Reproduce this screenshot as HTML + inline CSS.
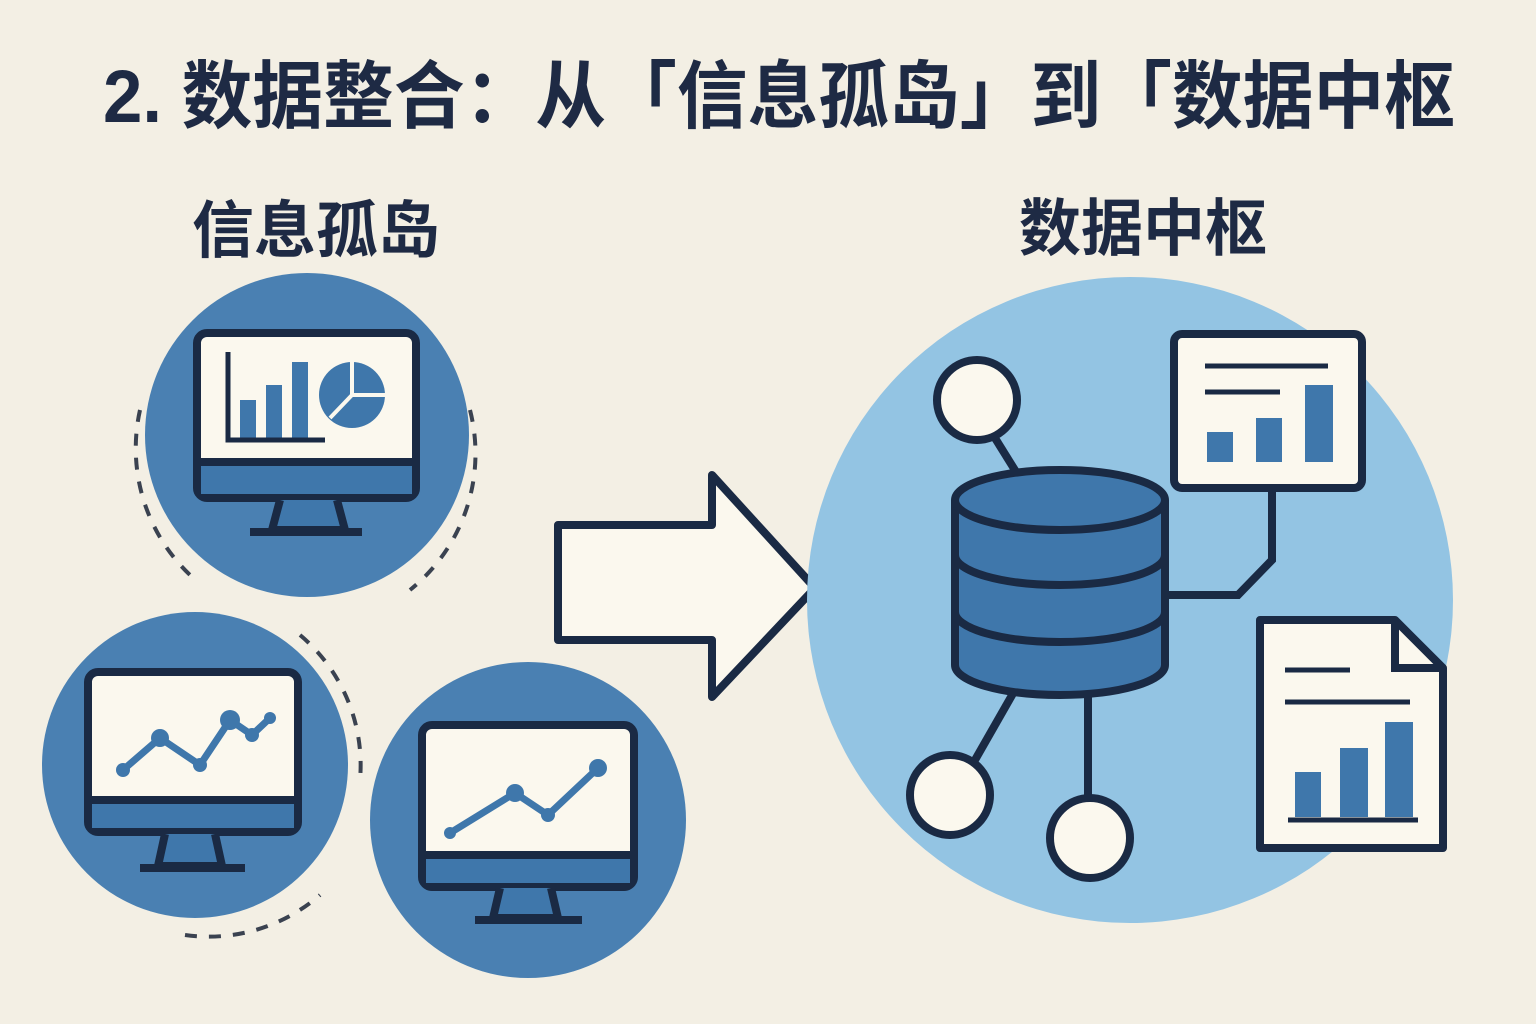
<!DOCTYPE html>
<html><head><meta charset="utf-8"><style>
html,body{margin:0;padding:0;background:#f3efe4;}
svg{display:block}
text{font-family:"Liberation Sans","Noto Sans CJK SC",sans-serif;font-weight:bold;fill:#1e2a44}
</style></head><body>
<svg width="1536" height="1024" viewBox="0 0 1536 1024" xmlns="http://www.w3.org/2000/svg">
<rect width="1536" height="1024" fill="#f3efe4"/>
<text x="103" y="122" font-size="74" textLength="1352" lengthAdjust="spacingAndGlyphs">2. 数据整合：从「信息孤岛」到「数据中枢</text>
<text x="316" y="252" font-size="62" text-anchor="middle">信息孤岛</text>
<text x="1143" y="250" font-size="62" text-anchor="middle">数据中枢</text>

<g fill="none" stroke="#3a4250" stroke-width="4" stroke-dasharray="12 12">
<path d="M140 410 A175 175 0 0 0 190 575"/>
<path d="M470 410 A175 175 0 0 1 410 590"/>
<path d="M300 635 A170 170 0 0 1 360 780"/>
<path d="M185 935 A170 170 0 0 0 320 895"/>
</g>

<circle cx="307" cy="435" r="162" fill="#4a80b2"/>
<circle cx="195" cy="765" r="153" fill="#4a80b2"/>
<circle cx="528" cy="820" r="158" fill="#4a80b2"/>

<g stroke="#1a2a44" stroke-width="8" stroke-linejoin="round">
<rect x="197" y="333" width="219" height="165" rx="10" fill="#fbf8ee"/>
<rect x="201" y="462" width="211" height="32" fill="#3f77ab" stroke="none"/>
<line x1="201" y1="462" x2="412" y2="462"/>
<path d="M280 500 L272 530 L345 530 L337 500" fill="#3f77ab"/>
<line x1="250" y1="532" x2="362" y2="532"/>
<rect x="88" y="672" width="210" height="160" rx="10" fill="#fbf8ee"/>
<rect x="92" y="800" width="202" height="28" fill="#3f77ab" stroke="none"/>
<line x1="92" y1="800" x2="294" y2="800"/>
<path d="M165 834 L158 866 L222 866 L215 834" fill="#3f77ab"/>
<line x1="140" y1="868" x2="245" y2="868"/>
<rect x="422" y="725" width="212" height="162" rx="10" fill="#fbf8ee"/>
<rect x="426" y="855" width="204" height="28" fill="#3f77ab" stroke="none"/>
<line x1="426" y1="855" x2="630" y2="855"/>
<path d="M500 888 L493 918 L558 918 L551 888" fill="#3f77ab"/>
<line x1="475" y1="920" x2="582" y2="920"/>
</g>

<g fill="#3f77ab">
<rect x="240" y="400" width="16" height="38"/><rect x="266" y="385" width="16" height="53"/><rect x="292" y="362" width="16" height="76"/>
</g>
<path d="M228 352 V440 H325" fill="none" stroke="#1a2a44" stroke-width="5"/>
<circle cx="352" cy="395" r="33" fill="#3f77ab"/>
<path d="M352 395 V362 M352 395 L385 395 M352 395 L330 418" stroke="#fbf8ee" stroke-width="4"/>
<polyline points="123,770 160,738 200,765 230,720 252,735 270,718" fill="none" stroke="#3f77ab" stroke-width="7" stroke-linejoin="round"/>
<g fill="#3f77ab"><circle cx="123" cy="770" r="7"/><circle cx="160" cy="738" r="9"/><circle cx="200" cy="765" r="7"/><circle cx="230" cy="720" r="10"/><circle cx="252" cy="735" r="7"/><circle cx="270" cy="718" r="6"/></g>
<polyline points="450,833 515,793 548,815 598,768" fill="none" stroke="#3f77ab" stroke-width="7" stroke-linejoin="round"/>
<g fill="#3f77ab"><circle cx="450" cy="833" r="6"/><circle cx="515" cy="793" r="9"/><circle cx="548" cy="815" r="7"/><circle cx="598" cy="768" r="9"/></g>

<polygon points="558,525 712,525 712,475 815,588 712,697 712,640 558,640" fill="#fbf8ee" stroke="#1a2a44" stroke-width="8" stroke-linejoin="round"/>

<circle cx="1130" cy="600" r="323" fill="#93c4e3"/>
<g stroke="#1a2a44" stroke-width="8" fill="none">
<line x1="990" y1="430" x2="1018" y2="475"/>
<line x1="1015" y1="690" x2="975" y2="760"/>
<line x1="1088" y1="690" x2="1088" y2="800"/>
<polyline points="1165,595 1238,595 1272,560 1272,488"/>
</g>
<g stroke="#1a2a44" stroke-width="8" fill="#3f77ab">
<path d="M955 500 V665 A105 30 0 0 0 1165 665 V500"/>
<path d="M955 555 A105 30 0 0 0 1165 555" fill="none"/>
<path d="M955 612 A105 30 0 0 0 1165 612" fill="none"/>
<ellipse cx="1060" cy="500" rx="105" ry="30"/>
</g>
<g fill="#fbf8ee" stroke="#1a2a44" stroke-width="8">
<circle cx="977" cy="400" r="40"/>
<circle cx="950" cy="795" r="40"/>
<circle cx="1090" cy="838" r="40"/>
<rect x="1174" y="334" width="188" height="154" rx="8"/>
<path d="M1260 620 H1395 L1443 668 V848 H1260 Z" stroke-linejoin="round"/>
<path d="M1395 620 V668 H1443" fill="none"/>
</g>
<g stroke="#1a2a44" stroke-width="5">
<line x1="1205" y1="366" x2="1328" y2="366"/><line x1="1205" y1="392" x2="1280" y2="392"/>
<line x1="1285" y1="670" x2="1350" y2="670"/><line x1="1285" y1="702" x2="1410" y2="702"/>
<line x1="1288" y1="820" x2="1418" y2="820"/>
</g>
<g fill="#3f77ab">
<rect x="1207" y="432" width="26" height="30"/><rect x="1256" y="418" width="26" height="44"/><rect x="1305" y="385" width="28" height="77"/>
<rect x="1295" y="772" width="26" height="45"/><rect x="1340" y="748" width="28" height="69"/><rect x="1385" y="722" width="28" height="95"/>
</g>
</svg>
</body></html>
